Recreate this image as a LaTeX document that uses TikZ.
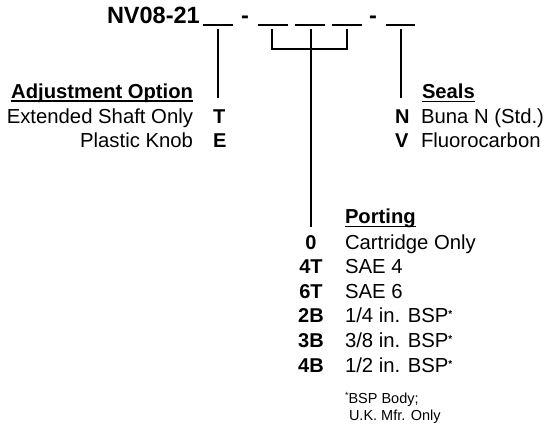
\documentclass[tikz,border=0pt]{standalone}
\usepackage{fontspec}
\setmainfont{Liberation Sans}
\begin{document}
\begin{tikzpicture}[x=1bp,y=-1bp,
  every node/.style={inner sep=0pt,outer sep=0pt},
  conn/.style={line width=1.1bp,black},
  slot/.style={line width=1.1bp,black},
  uline/.style={line width=1.2bp,black},
  title/.style={font=\fontsize{23.5bp}{26bp}\selectfont\bfseries},
  head/.style={font=\fontsize{20.2bp}{24bp}\selectfont\bfseries},
  body/.style={font=\fontsize{20.3bp}{24bp}\selectfont},
  code/.style={font=\fontsize{20bp}{24bp}\selectfont\bfseries},
  foot/.style={font=\fontsize{14.5bp}{16bp}\selectfont}]
\useasboundingbox (0,0) rectangle (545,428);
\newcommand{\myast}{\raisebox{5bp}{\fontsize{10bp}{10bp}\selectfont\bfseries *}}
% title and slots
\node[title,anchor=base west] (ttl) at (107,23) {NV08-21};
\node[title,anchor=base] (d1) at (245,23) {-};
\node[title,anchor=base] (d2) at (373,23) {-};
\coordinate (s1a) at (203,25); \coordinate (s1b) at (233,25);
\coordinate (s2a) at (258,25); \coordinate (s2b) at (288,25);
\coordinate (s3a) at (295,25); \coordinate (s3b) at (325,25);
\coordinate (s4a) at (332,25); \coordinate (s4b) at (362,25);
\coordinate (s5a) at (386,25); \coordinate (s5b) at (415,25);
\draw[slot] (s1a) -- (s1b);
\draw[slot] (s2a) -- (s2b);
\draw[slot] (s3a) -- (s3b);
\draw[slot] (s4a) -- (s4b);
\draw[slot] (s5a) -- (s5b);
% connector start/end points
\coordinate (c1) at (218,29); \coordinate (e1) at (218,98);
\coordinate (c2) at (272,29); \coordinate (c3) at (311,29); \coordinate (c4) at (347,29);
\coordinate (e3) at (311,227);
\coordinate (c5) at (401,29); \coordinate (e5) at (401,98);
\draw[conn] (c1) -- (e1);
\draw[conn] (c2) -- (272,49) -- (347,49) -- (c4);
\draw[conn] (c3) -- (e3);
\draw[conn] (c5) -- (e5);
% Adjustment option
\node[head,anchor=base east] (adj) at (193,98) {Adjustment Option};
\draw[uline] ([yshift=-3bp]adj.base west) -- ([yshift=-3bp]adj.base east);
\node[body,anchor=base east] (ext) at (193,123) {Extended Shaft Only};
\node[body,anchor=base east] (pk) at (193,147) {Plastic Knob};
\node[code,anchor=base west] (T) at (213,123) {T};
\node[code,anchor=base west] (E) at (213,147) {E};
% Seals
\node[head,anchor=base west] (seals) at (422,98) {Seals};
\draw[uline] ([yshift=-3.5bp]seals.base west) -- ([yshift=-3.5bp]seals.base east);
\node[code,anchor=base west] (N) at (395,123) {N};
\node[code,anchor=base west] (V) at (395,147) {V};
\node[body,anchor=base west] (buna) at (421,123) {Buna N (Std.)};
\node[body,anchor=base west] (fluo) at (421,147) {Fluorocarbon};
% Porting
\node[head,anchor=base west] (port) at (345,223) {Porting};
\draw[uline] ([yshift=-3.5bp]port.base west) -- ([yshift=-3.5bp]port.base east);
\node[code,anchor=base] (p0) at (311,249) {0};
\node[code,anchor=base] (p4t) at (311,273.6) {4T};
\node[code,anchor=base] (p6t) at (311,298.2) {6T};
\node[code,anchor=base] (p2b) at (311,322.8) {2B};
\node[code,anchor=base] (p3b) at (311,347.4) {3B};
\node[code,anchor=base] (p4b) at (311,372) {4B};
\node[body,anchor=base west] (t0) at (345,249) {Cartridge Only};
\node[body,anchor=base west] (t4t) at (345,273.6) {SAE 4};
\node[body,anchor=base west] (t6t) at (345,298.2) {SAE 6};
\node[body,anchor=base west] (t2b) at (345,322.8) {1/4 in. BSP\myast};
\node[body,anchor=base west] (t3b) at (345,347.4) {3/8 in. BSP\myast};
\node[body,anchor=base west] (t4b) at (345,372) {1/2 in. BSP\myast};
\node[foot,anchor=base west] (f1) at (345,403) {\raisebox{4.5bp}{\fontsize{9bp}{9bp}\selectfont *}BSP Body;};
\node[foot,anchor=base west] (f2) at (349,420) {U.K. Mfr. Only};
\end{tikzpicture}
\end{document}
